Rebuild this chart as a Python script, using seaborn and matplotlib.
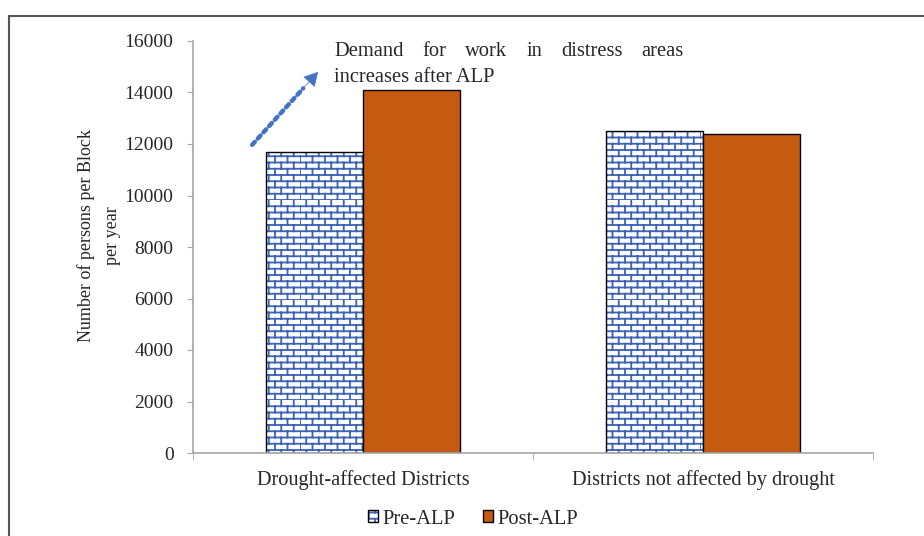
import numpy as np
import pandas as pd
import matplotlib
matplotlib.use("Agg")
import matplotlib.pyplot as plt
import matplotlib.hatch as mhatch
from matplotlib.path import Path
from matplotlib.patches import Patch, Rectangle
from matplotlib.colors import to_rgba
import seaborn as sns

# ── Data ─────────────────────────────────────
categories = ["Drought-affected Districts", "Districts not affected by drought"]
periods = ["Pre-ALP", "Post-ALP"]
pre_alp = [11700, 12500]
post_alp = [14100, 12400]

df = pd.DataFrame({
    "region": categories * 2,
    "period": [periods[0]] * 2 + [periods[1]] * 2,
    "persons": pre_alp + post_alp,
})

ORANGE = "#C55A11"
BRICK = "#3A62B5"
ARROW = "#4472C4"
AXIS_GREY = "#a6a6a6"


# ── Brick hatch (Excel style) ────────────────
class BrickHatch(mhatch.HatchPatternBase):
    rows, cols = 16, 8

    def __init__(self, hatch, density):
        on = hatch.count("b") > 0
        self.num_vertices = (self.rows * 2 + self.rows * self.cols * 2) if on else 0

    def set_vertices_and_codes(self, vertices, codes):
        k = 0
        for i in range(self.rows):
            y0 = i / self.rows
            vertices[k] = (0.0, y0); codes[k] = Path.MOVETO
            vertices[k + 1] = (1.0, y0); codes[k + 1] = Path.LINETO
            k += 2
            shift = 0.5 if i % 2 else 0.0
            for j in range(self.cols):
                x = (j + shift) / self.cols
                vertices[k] = (x, y0); codes[k] = Path.MOVETO
                vertices[k + 1] = (x, y0 + 1 / self.rows); codes[k + 1] = Path.LINETO
                k += 2


mhatch._hatch_types.append(BrickHatch)
mhatch._validate_hatch_pattern = lambda h: None

sns.set_style("white")
plt.rcParams["font.family"] = ["Liberation Serif", "DejaVu Serif"]
plt.rcParams["hatch.linewidth"] = 1.3

fig = plt.figure(figsize=(9.24, 5.36), dpi=100)
ax = fig.add_axes([193 / 924, 1 - 453 / 536, 680 / 924, 412 / 536])

sns.barplot(data=df, x="region", y="persons", hue="period", hue_order=periods,
            palette=["white", ORANGE], saturation=1, width=0.57,
            edgecolor="black", linewidth=1.0, legend=False, ax=ax)

for bar in ax.containers[0]:
    bar.set_hatch("b")
    bar._hatch_color = to_rgba(BRICK)

ax.set_ylim(0, 16000)
ax.set_yticks(np.arange(0, 16001, 2000))
ax.set_xlim(-0.5, 1.5)
ax.set_xticks([0, 1])
ax.set_xticks([-0.5, 0.5, 1.5], minor=True)
ax.set_xlabel("")
ax.set_ylabel("")
fig.text(99 / 924, 1 - 236 / 536, "Number of persons per Block\nper year", fontsize=13,
         rotation=90, ha="center", va="center", linespacing=1.65)

for side in ["top", "right"]:
    ax.spines[side].set_visible(False)
for side in ["left", "bottom"]:
    ax.spines[side].set_color(AXIS_GREY)
    ax.spines[side].set_linewidth(1.2)

ax.tick_params(axis="y", which="major", length=4, color=AXIS_GREY, labelsize=14,
               pad=10, left=True)
ax.tick_params(axis="x", which="major", length=0, labelsize=14.6, pad=12)
ax.tick_params(axis="x", which="minor", length=5, color=AXIS_GREY, bottom=True,
               direction="out")

# ── Annotation arrow: dotted shaft + solid head ──
start, tip = (0.087, 0.748), (0.184, 0.925)
neck = (tip[0] - 0.022, tip[1] - 0.040)
ax.annotate("", xy=neck, xytext=start, xycoords="axes fraction",
            arrowprops=dict(arrowstyle="-", color=ARROW, lw=3.2,
                            linestyle=(0, (0.9, 1.0)), shrinkA=0, shrinkB=0))
ax.annotate("", xy=tip, xytext=(neck[0] - 0.004, neck[1] - 0.007),
            xycoords="axes fraction",
            arrowprops=dict(arrowstyle="-|>,head_length=0.9,head_width=0.5",
                            color=ARROW, lw=0.5, shrinkA=0, shrinkB=0))

NOTE_FS = 14.8
words = ["Demand", "for", "work", "in", "distress", "areas"]
left_px, right_px = 334, 684
rend = fig.canvas.get_renderer()
widths = []
for w in words:
    t = fig.text(0, 0, w, fontsize=NOTE_FS)
    widths.append(t.get_window_extent(rend).width)
    t.remove()
gap = (right_px - left_px - sum(widths)) / (len(words) - 1)
x = left_px
for w, wd in zip(words, widths):
    fig.text(x / 924, 1 - 51 / 536, w, fontsize=NOTE_FS, va="center", ha="left")
    x += wd + gap
fig.text(left_px / 924, 1 - 77 / 536, "increases after ALP", fontsize=NOTE_FS,
         va="center", ha="left")

# ── Legend ───────────────────────────────────
handles = [Patch(facecolor="white", edgecolor="black", hatch="b", linewidth=1.0),
           Patch(facecolor=ORANGE, edgecolor="black", linewidth=1.0)]
handles[0]._hatch_color = to_rgba(BRICK)
fig.legend(handles, periods, loc="center", bbox_to_anchor=(473 / 924, 1 - 519 / 536),
           ncol=2, frameon=False, fontsize=14.8, handlelength=0.5, handleheight=0.5,
           handletextpad=0.2, columnspacing=1.35)

# outer frame
fig.patches.append(Rectangle((9 / 924, -0.2), 2, 1.2 - 16 / 536, transform=fig.transFigure,
                             fill=False, edgecolor="#555555", linewidth=1.5))

fig.savefig("out.png", dpi=100, facecolor="white")
